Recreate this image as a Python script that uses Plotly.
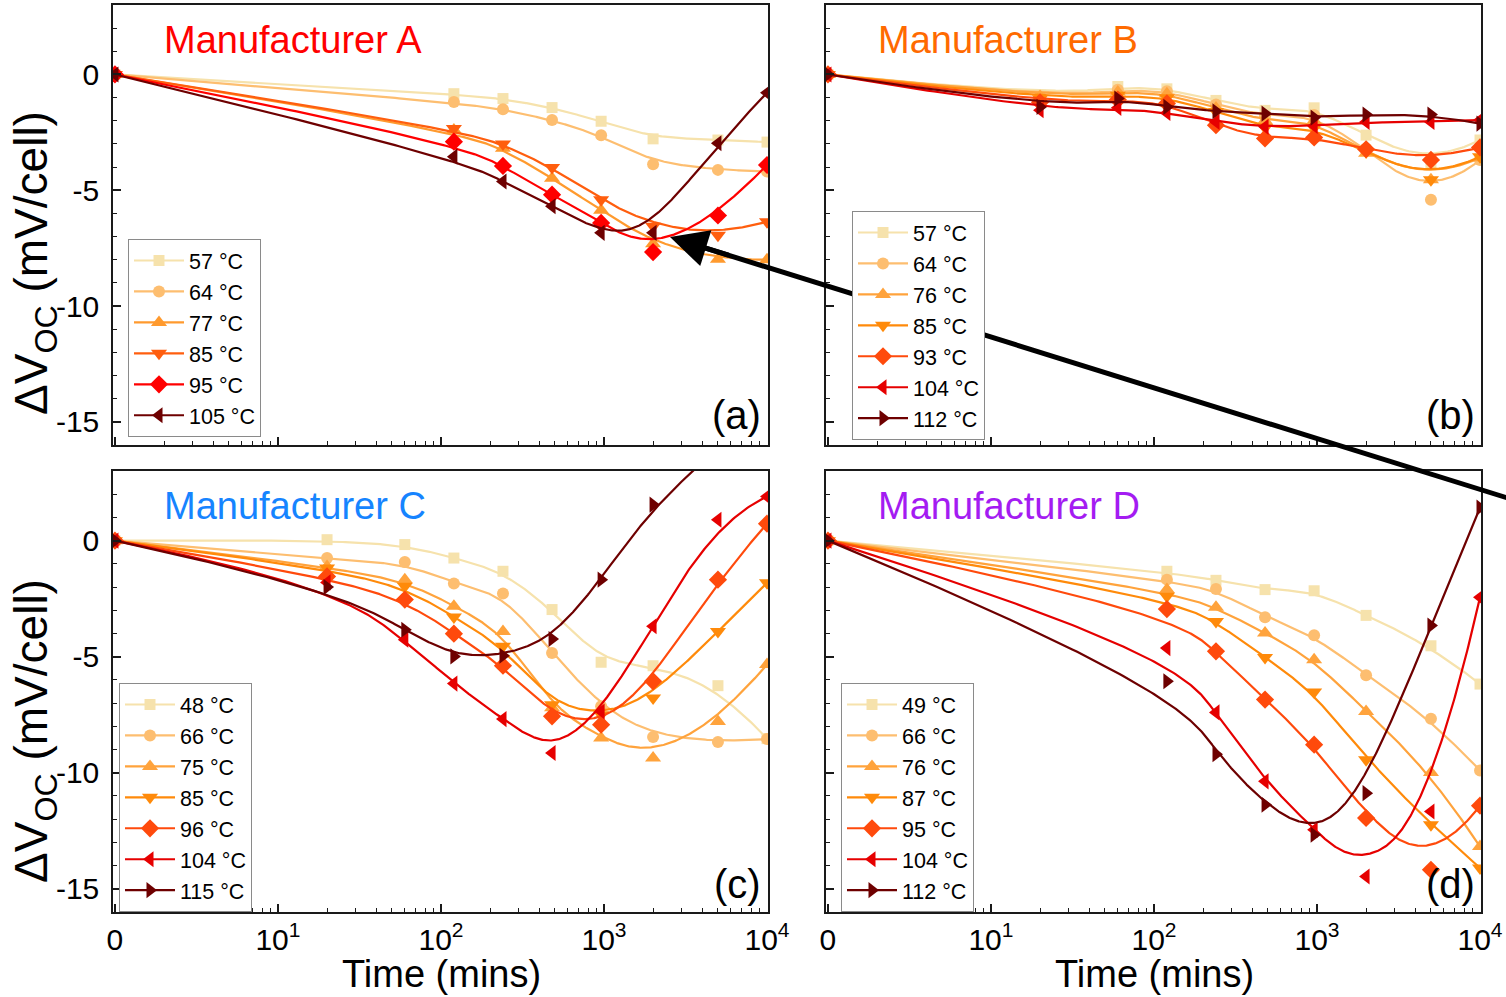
import numpy as np
import plotly.graph_objects as go

# ---------------- data ----------------
TIME_A = [0, 120, 240, 480, 960, 2000, 5000, 10000]
A_LABELS = ["57 °C", "64 °C", "77 °C", "85 °C", "95 °C", "105 °C"]
A_57 = [0, -0.83, -1.04, -1.43, -2.02, -2.78, -2.83, -2.92]
A_64 = [0, -1.19, -1.50, -1.97, -2.62, -3.88, -4.12, -4.19]
A_77 = [0, -2.40, -3.19, -4.48, -5.86, -7.31, -7.98, -8.00]
A_85 = [0, -2.33, -3.00, -4.02, -5.41, -6.55, -6.94, -6.36]
A_95 = [0, -2.90, -3.95, -5.19, -6.41, -7.67, -6.09, -3.91]
A_105 = [0, -3.55, -4.62, -5.69, -6.84, -6.84, -2.97, -0.79]

TIME_B = [0, 20, 60, 120, 240, 480, 960, 2000, 5000, 10000]
B_LABELS = ["57 °C", "64 °C", "76 °C", "85 °C", "93 °C", "104 °C", "112 °C"]
B_57 = [0, -0.90, -0.52, -0.62, -1.12, -1.55, -1.44, -2.62, -3.90, -2.83]
B_64 = [0, -0.95, -0.66, -0.72, -1.30, -1.80, -1.75, -3.20, -5.41, -3.69]
B_76 = [0, -0.95, -0.76, -0.83, -1.45, -2.00, -2.00, -3.40, -4.55, -3.60]
B_85 = [0, -1.05, -0.90, -1.00, -1.60, -2.30, -2.30, -3.35, -4.55, -3.55]
B_93 = [0, -1.20, -1.09, -1.25, -2.19, -2.76, -2.72, -3.23, -3.69, -3.15]
B_104 = [0, -1.54, -1.44, -1.66, -2.05, -2.26, -2.22, -2.05, -2.05, -1.97]
B_112 = [0, -1.40, -1.04, -1.40, -1.59, -1.69, -1.86, -1.73, -1.73, -2.12]

TIME_C = [0, 20, 60, 120, 240, 480, 960, 2000, 5000, 10000]
C_LABELS = ["48 °C", "66 °C", "75 °C", "85 °C", "96 °C", "104 °C", "115 °C"]
C_48 = [0, 0.04, -0.17, -0.75, -1.32, -2.97, -5.24, -5.39, -6.25, -8.53]
C_66 = [0, -0.75, -0.92, -1.85, -2.28, -4.84, -7.14, -8.46, -8.68, -8.55]
C_75 = [0, -1.11, -1.68, -2.83, -3.91, -7.20, -8.50, -9.37, -7.79, -5.34]
C_85 = [0, -1.18, -1.97, -3.29, -4.55, -7.07, -7.50, -6.78, -3.91, -1.82]
C_96 = [0, -1.54, -2.54, -4.01, -5.39, -7.57, -7.93, -6.06, -1.68, 0.73]
C_104 = [0, -1.80, -4.27, -6.16, -7.69, -9.15, -7.36, -3.69, 0.90, 1.90]
C_115 = [0, -2.00, -3.84, -4.99, -4.96, -4.24, -1.68, 1.55, 4.00, 6.00]

TIME_D = [0, 120, 240, 480, 960, 2000, 5000, 10000]
D_LABELS = ["49 °C", "66 °C", "76 °C", "87 °C", "95 °C", "104 °C", "112 °C"]
D_49 = [0, -1.32, -1.71, -2.11, -2.16, -3.22, -4.53, -6.18]
D_66 = [0, -1.68, -2.08, -3.30, -4.08, -5.80, -7.67, -9.90]
D_76 = [0, -2.11, -2.87, -3.98, -5.13, -7.36, -9.99, -13.18]
D_87 = [0, -2.40, -3.48, -5.03, -6.52, -9.44, -12.24, -14.10]
D_95 = [0, -2.95, -4.77, -6.85, -8.79, -11.95, -14.18, -11.42]
D_104 = [0, -4.63, -7.40, -10.37, -12.46, -14.47, -11.67, -2.44]
D_112 = [0, -6.06, -9.20, -11.38, -12.67, -10.88, -3.66, 1.42]

X_TICK_VALS = [1, 10, 100, 1000, 10000]
X_TICK_TEXT = ["0", "10<sup>1</sup>", "10<sup>2</sup>", "10<sup>3</sup>", "10<sup>4</sup>"]
Y_TICK_VALS = [0, -5, -10, -15]
Y_TICK_TEXT = ["0", "-5", "-10", "-15"]

# ---------------- styling ----------------
W, H = 1506, 997
FONT = "Arial, Liberation Sans, sans-serif"
COLORS6 = ["#F6E2AC", "#FDBE70", "#FF9A2E", "#FF5E0E", "#FF0000", "#6E0000"]
COLORS7 = ["#F6E2AC", "#FDBE70", "#FFA33C", "#FF8A0A", "#FF4A0C", "#E60000", "#6E0000"]
SYM6 = ["square", "circle", "triangle-up", "triangle-down", "diamond", "triangle-left"]
SYM7 = ["square", "circle", "triangle-up", "triangle-down", "diamond", "triangle-left", "triangle-right"]
MSIZE = {"square": 11, "circle": 12, "triangle-up": 14, "triangle-down": 14,
         "diamond": 14, "triangle-left": 14, "triangle-right": 14}


def bspline(xs, ys, num=500, k=3):
    """Clamped uniform B-spline with the data points as control points
    (the 'B-spline' connection used by the original plotting software)."""
    P = np.column_stack([xs, ys]).astype(float)
    n = len(P)
    k = min(k, n - 1)
    inner = np.linspace(0, 1, n - k + 1)
    t = np.concatenate([np.zeros(k), inner, np.ones(k)])
    u = np.linspace(0, 1, num)
    N = np.zeros((num, len(t) - 1))
    for i in range(len(t) - 1):
        N[:, i] = ((t[i] <= u) & (u < t[i + 1])).astype(float)
    N[-1, :] = 0
    N[-1, n - 1] = 1.0
    for d in range(1, k + 1):
        Nn = np.zeros((num, len(t) - 1 - d))
        for i in range(len(t) - 1 - d):
            term = np.zeros(num)
            den1 = t[i + d] - t[i]
            den2 = t[i + d + 1] - t[i + 1]
            if den1 > 0:
                term += (u - t[i]) / den1 * N[:, i]
            if den2 > 0:
                term += (t[i + d + 1] - u) / den2 * N[:, i + 1]
            Nn[:, i] = term
        N = Nn
    C = N @ P
    return C[:, 0], C[:, 1]


panels = [
    dict(ax="", time=TIME_A, labels=A_LABELS, series=[A_57, A_64, A_77, A_85, A_95, A_105],
         colors=COLORS6, syms=SYM6, legend="legend"),
    dict(ax="2", time=TIME_B, labels=B_LABELS, series=[B_57, B_64, B_76, B_85, B_93, B_104, B_112],
         colors=COLORS7, syms=SYM7, legend="legend2"),
    dict(ax="3", time=TIME_C, labels=C_LABELS, series=[C_48, C_66, C_75, C_85, C_96, C_104, C_115],
         colors=COLORS7, syms=SYM7, legend="legend3"),
    dict(ax="4", time=TIME_D, labels=D_LABELS, series=[D_49, D_66, D_76, D_87, D_95, D_104, D_112],
         colors=COLORS7, syms=SYM7, legend="legend4"),
]

fig = go.Figure()
for p in panels:
    # time 0 is drawn at the axis start (10^0), as in the reference
    tplot = np.where(np.array(p["time"]) == 0, 1.0, np.array(p["time"], dtype=float))
    lx = np.log10(tplot)
    xa, ya = "x" + p["ax"], "y" + p["ax"]
    for lab, vals, col, sym in zip(p["labels"], p["series"], p["colors"], p["syms"]):
        msize = MSIZE[sym]
        cx, cy = bspline(lx, vals)
        fig.add_trace(go.Scatter(x=10 ** cx, y=cy, mode="lines", xaxis=xa, yaxis=ya,
                                 line=dict(color=col, width=2.2), showlegend=False,
                                 hoverinfo="skip", legendgroup=p["legend"] + lab))
        fig.add_trace(go.Scatter(x=tplot, y=vals, mode="markers", xaxis=xa, yaxis=ya,
                                 marker=dict(color=col, symbol=sym, size=msize, line=dict(width=0)),
                                 showlegend=False, legendgroup=p["legend"] + lab))
        fig.add_trace(go.Scatter(x=[None], y=[None], mode="lines+markers", xaxis=xa, yaxis=ya,
                                 name=lab, legend=p["legend"], legendgroup=p["legend"] + lab,
                                 line=dict(color=col, width=2.2),
                                 marker=dict(color=col, symbol=sym, size=msize, line=dict(width=0))))

MINOR_X = [m * 10 ** e for e in range(0, 4) for m in range(2, 10)]
LINE_C = "#1a1a1a"

def xaxis(domain, anchor, labels):
    return dict(type="log", domain=domain, anchor=anchor, range=[-0.012, 4.006],
                showline=True, linecolor=LINE_C, linewidth=1.5, mirror=True,
                ticks="inside", ticklen=8, tickwidth=1.5, tickcolor=LINE_C,
                tickvals=X_TICK_VALS, ticktext=X_TICK_TEXT, showticklabels=labels,
                tickfont=dict(size=30, family=FONT, color="black"), ticklabelstandoff=0,
                minor=dict(ticks="inside", ticklen=4, tickwidth=1.2, tickcolor=LINE_C, tickvals=MINOR_X),
                showgrid=False, zeroline=False, automargin=False)

def yaxis(domain, anchor, labels):
    return dict(domain=domain, anchor=anchor, range=[-16, 3],
                showline=True, linecolor=LINE_C, linewidth=1.5, mirror=True,
                ticks="inside", ticklen=8, tickwidth=1.5, tickcolor=LINE_C,
                tickvals=Y_TICK_VALS, ticktext=Y_TICK_TEXT, showticklabels=labels,
                tickfont=dict(size=30, family=FONT, color="black"), ticklabelstandoff=6,
                minor=dict(ticks="inside", ticklen=4, tickwidth=1.2, tickcolor=LINE_C, dtick=1),
                showgrid=False, zeroline=False, automargin=False)

colL = [113 / W, 768 / W]
colR = [826 / W, 1481 / W]
row1 = [1 - 445 / H, 1 - 5 / H]
row2 = [1 - 912 / H, 1 - 471 / H]

legend_common = dict(bgcolor="white", bordercolor="#8a8a8a", borderwidth=1,
                     font=dict(size=21.5, family=FONT, color="black"), itemwidth=50,
                     xanchor="left", yanchor="top", traceorder="normal", itemclick=False)

fig.update_layout(
    width=W, height=H, margin=dict(l=0, r=0, t=0, b=0, autoexpand=False),
    paper_bgcolor="white", plot_bgcolor="white",
    xaxis=xaxis(colL, "y", False), yaxis=yaxis(row1, "x", True),
    xaxis2=xaxis(colR, "y2", False), yaxis2=yaxis(row1, "x2", False),
    xaxis3=xaxis(colL, "y3", True), yaxis3=yaxis(row2, "x3", True),
    xaxis4=xaxis(colR, "y4", True), yaxis4=yaxis(row2, "x4", False),
    legend=dict(x=128 / W, y=1 - 239 / H, **legend_common),
    legend2=dict(x=852 / W, y=1 - 211 / H, **legend_common),
    legend3=dict(x=119 / W, y=1 - 683 / H, **legend_common),
    legend4=dict(x=841 / W, y=1 - 683 / H, **legend_common),
    showlegend=True,
)

ann = []
titles = [("Manufacturer A", "#FF0000", 162, 40), ("Manufacturer B", "#FF6A00", 876, 40),
          ("Manufacturer C", "#1684FF", 162, 506), ("Manufacturer D", "#A41CF2", 876, 506)]
for txt, col, px, py in titles:
    ann.append(dict(text=txt, x=px / W, y=1 - py / H, xref="paper", yref="paper",
                    xanchor="left", yanchor="middle", showarrow=False,
                    font=dict(size=38, family=FONT, color=col)))
for txt, px, py in [("(a)", 763, 415), ("(b)", 1477, 415), ("(c)", 763, 884), ("(d)", 1477, 884)]:
    ann.append(dict(text=txt, x=px / W, y=1 - py / H, xref="paper", yref="paper",
                    xanchor="right", yanchor="middle", showarrow=False,
                    font=dict(size=40, family=FONT, color="black")))
for py in [263, 731]:
    ann.append(dict(text="ΔV<sub>OC</sub> (mV/cell)", x=34 / W, y=1 - py / H, xref="paper", yref="paper",
                    xanchor="center", yanchor="middle", textangle=-90, showarrow=False,
                    font=dict(size=46, family=FONT, color="black")))
for px in [441, 1154]:
    ann.append(dict(text="Time (mins)", x=px / W, y=1 - 974 / H, xref="paper", yref="paper",
                    xanchor="center", yanchor="middle", showarrow=False,
                    font=dict(size=38, family=FONT, color="black")))
# black arrow pointing at the panel (a) minimum: shaft runs off the right edge
HEAD = (670, 237)
SLOPE = 0.3116
fig.add_shape(type="line", xref="paper", yref="paper",
              x0=(HEAD[0] + 25) / W, y0=1 - (HEAD[1] + 25 * SLOPE) / H,
              x1=1540 / W, y1=1 - (HEAD[1] + (1540 - HEAD[0]) * SLOPE) / H,
              line=dict(color="black", width=5))
ann.append(dict(text="", x=HEAD[0] / W, y=1 - HEAD[1] / H, xref="paper", yref="paper",
                ax=60, ay=60 * SLOPE, axref="pixel", ayref="pixel", showarrow=True,
                arrowhead=2, arrowsize=1.5, arrowwidth=5, arrowcolor="black", standoff=0))
fig.update_layout(annotations=ann)

fig.write_html("out.html")
